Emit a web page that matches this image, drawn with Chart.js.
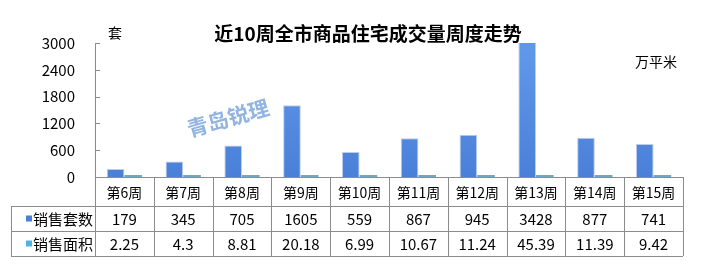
<!DOCTYPE html>
<html>
<head>
<meta charset="utf-8">
<script src="https://cdn.jsdelivr.net/npm/chart.js@4.4.1/dist/chart.umd.min.js"></script>
<style>
  html, body { margin: 0; padding: 0; background: #fff; }
  #c { display: block; }
</style>
</head>
<body>
<canvas id="c" width="705" height="276"></canvas>
<script>
// 数据
var weeks = ['第6周', '第7周', '第8周', '第9周', '第10周', '第11周', '第12周', '第13周', '第14周', '第15周'];
var salesCount = [179, 345, 705, 1605, 559, 867, 945, 3428, 877, 741];
var salesArea = [2.25, 4.3, 8.81, 20.18, 6.99, 10.67, 11.24, 45.39, 11.39, 9.42];
var seriesNames = ['销售套数', '销售面积'];
var yTicks = [0, 600, 1200, 1800, 2400, 3000];

var FONT = "'Noto Sans CJK SC', 'Noto Sans', sans-serif";
var LINE = '#8c8c8c';

// 柱子渐变
function barGradient(ctx) {
    var chart = ctx.chart;
    var area = chart.chartArea;
    if (!area) return '#5288dc';
    var g = chart.ctx.createLinearGradient(0, area.top, 0, area.bottom);
    g.addColorStop(0, '#6199ea');
    g.addColorStop(1, '#4a80d8');
    return g;
}

// 标题、单位、水印、数据表
var extras = {
    id: 'extras',
    afterDraw: function(chart) {
        var ctx = chart.ctx;
        var x = chart.scales.x;
        var y = chart.scales.y;
        var area = chart.chartArea;
        ctx.save();

        // y 轴刻度线（内侧）
        ctx.strokeStyle = LINE;
        ctx.lineWidth = 1;
        yTicks.forEach(function(t) {
            var py = Math.round(y.getPixelForValue(t)) + 0.5;
            ctx.beginPath();
            ctx.moveTo(area.left, py);
            ctx.lineTo(area.left + 5, py);
            ctx.stroke();
        });

        // 标题
        ctx.fillStyle = '#000';
        ctx.font = 'bold 19px ' + FONT;
        ctx.textAlign = 'center';
        ctx.textBaseline = 'middle';
        ctx.fillText('近10周全市商品住宅成交量周度走势', 368, 34);

        ctx.font = '14px ' + FONT;
        ctx.fillText('套', 115, 33);
        ctx.fillText('万平米', 656, 62);

        // 水印
        ctx.save();
        ctx.translate(228, 118);
        ctx.rotate(-16 * Math.PI / 180);
        ctx.font = 'bold 21px ' + FONT;
        ctx.fillStyle = 'rgba(110,155,215,0.75)';
        ctx.fillText('青岛锐理', 0, 0);
        ctx.restore();

        // 数据表
        var left = area.left, right = area.right;
        var top = area.bottom;
        var rows = [top, 206, 231, 256];
        var legendLeft = 11;
        var step = (right - left) / weeks.length;

        ctx.strokeStyle = LINE;
        ctx.beginPath();
        ctx.moveTo(left, rows[0] + 0.5); ctx.lineTo(right, rows[0] + 0.5);
        for (var r = 1; r < rows.length; r++) {
            ctx.moveTo(legendLeft, rows[r] + 0.5); ctx.lineTo(right, rows[r] + 0.5);
        }
        ctx.moveTo(legendLeft + 0.5, rows[1]); ctx.lineTo(legendLeft + 0.5, rows[3]);
        for (var i = 0; i <= weeks.length; i++) {
            var px = Math.round(left + i * step) + 0.5;
            ctx.moveTo(px, rows[0]); ctx.lineTo(px, rows[3]);
        }
        ctx.stroke();

        ctx.fillStyle = '#000';
        ctx.textAlign = 'center';
        weeks.forEach(function(w, i) {
            var cx = x.getPixelForValue(i);
            ctx.font = '14px ' + FONT;
            ctx.fillText(w, cx, (rows[0] + rows[1]) / 2 + 1);
            ctx.font = '15px ' + FONT;
            ctx.fillText(String(salesCount[i]), cx, (rows[1] + rows[2]) / 2 + 1);
            ctx.fillText(String(salesArea[i]), cx, (rows[2] + rows[3]) / 2 + 1);
        });

        // 图例列
        var legendColors = ['#4a7fd8', '#4fb3e3'];
        ctx.textAlign = 'left';
        ctx.font = '15px ' + FONT;
        for (var s = 0; s < 2; s++) {
            var cy = (rows[s + 1] + rows[s + 2]) / 2;
            ctx.fillStyle = legendColors[s];
            ctx.fillRect(26, cy - 3, 6, 6);
            ctx.fillStyle = '#000';
            ctx.fillText(seriesNames[s], 33, cy + 1);
        }
        ctx.restore();
    }
};

new Chart(document.getElementById('c'), {
    type: 'bar',
    data: {
        labels: weeks,
        datasets: [
            {
                label: seriesNames[0],
                data: salesCount,
                backgroundColor: barGradient,
                borderColor: 'rgba(70,110,190,0.35)',
                borderWidth: 1,
                barPercentage: 1,
                categoryPercentage: 0.6
            },
            {
                label: seriesNames[1],
                data: salesArea,
                backgroundColor: '#6ea9c4',
                minBarLength: 2,
                barPercentage: 1,
                categoryPercentage: 0.6
            }
        ]
    },
    options: {
        responsive: false,
        animation: false,
        devicePixelRatio: 1,
        layout: { padding: { top: 43, bottom: 99, left: 0, right: 22 } },
        plugins: {
            legend: { display: false },
            title: { display: false },
            tooltip: { enabled: false }
        },
        scales: {
            x: { display: false },
            y: {
                min: 0,
                max: 3000,
                afterBuildTicks: function(scale) {
                    scale.ticks = yTicks.map(function(v) { return { value: v }; });
                },
                afterFit: function(scale) { scale.width = 95; },
                grid: { display: false },
                border: { display: true, color: LINE },
                ticks: {
                    color: '#000',
                    padding: 12,
                    font: { family: FONT, size: 15 },
                    callback: function(v) { return String(v); }
                }
            }
        }
    },
    plugins: [extras]
});
</script>
</body>
</html>
